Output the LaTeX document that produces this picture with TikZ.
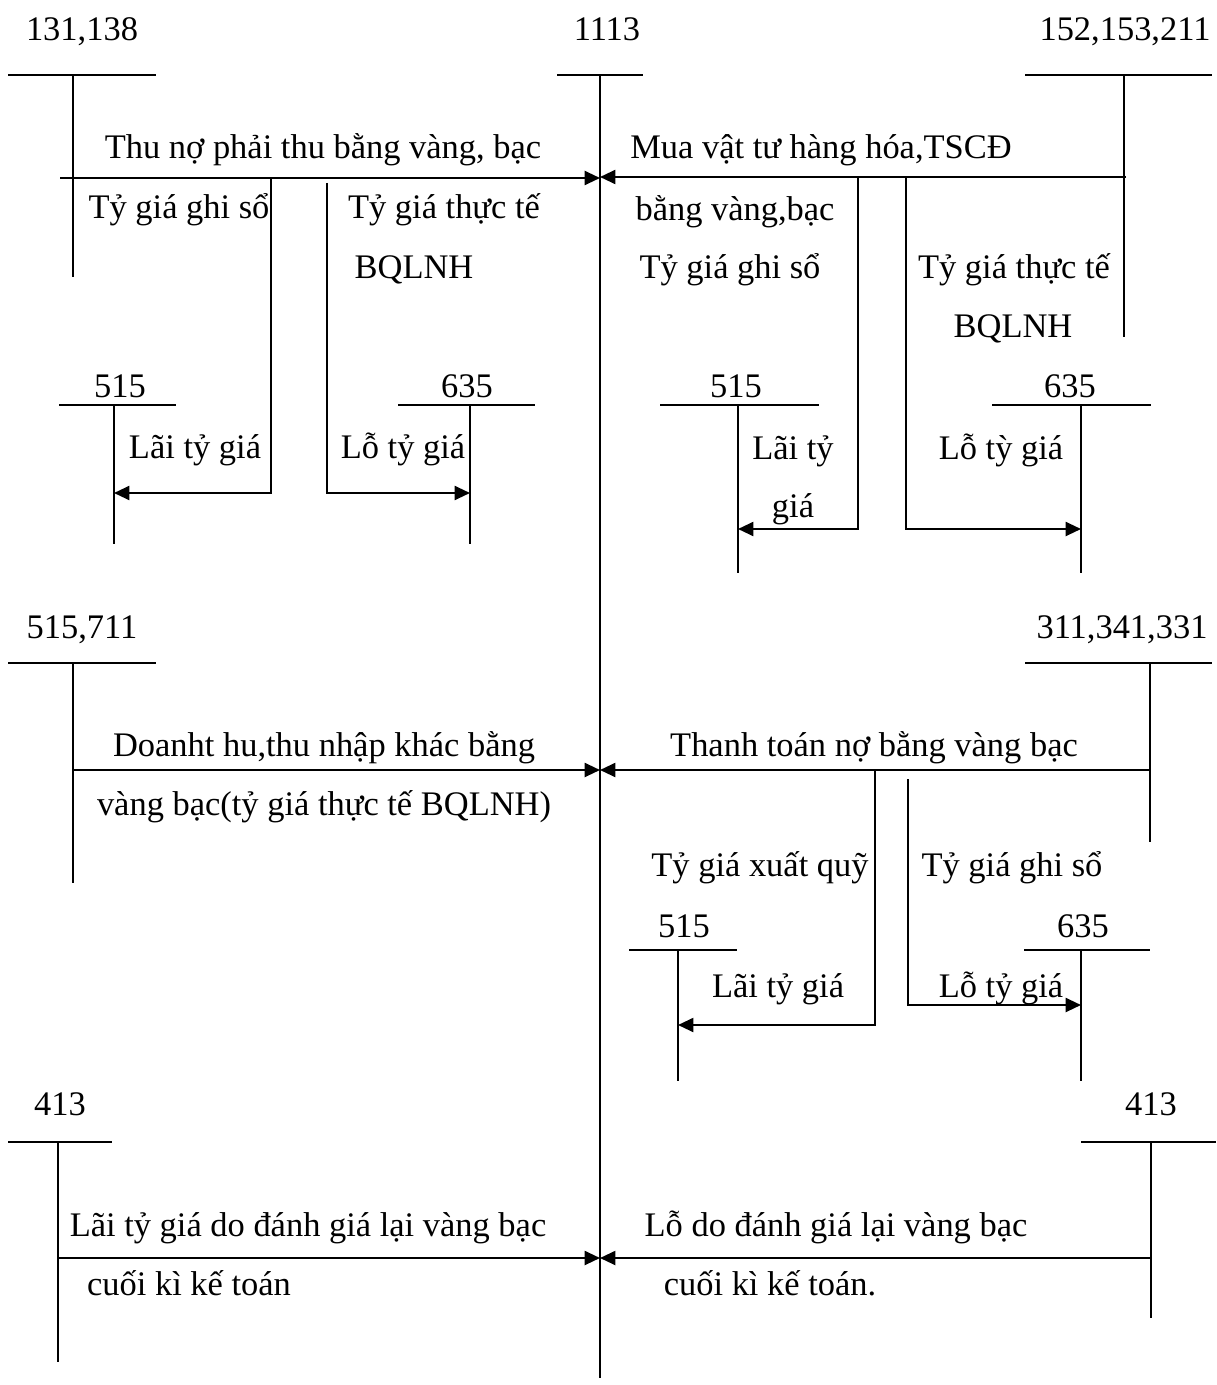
\documentclass[tikz,border=0pt]{standalone}
\usepackage{fontspec}
\setmainfont{Liberation Serif}
\usetikzlibrary{arrows.meta}

\tikzset{
  acct/.style={line width=1pt},
  flow/.style={line width=1.6pt, -{Triangle[length=11pt,width=10pt]}},
  lbl/.style={inner sep=0pt, text height=0.8em, text depth=0.25em, yshift=-5pt,
    font=\fontsize{24.5}{29}\selectfont},
}

\begin{document}
\begin{tikzpicture}[x=0.025cm, y=-0.025cm]
    \useasboundingbox (0,0) rectangle (1216,1385);

    % Main account 1113 in the middle
    \node[lbl] (n1113) at (607,30) {1113};
    \draw[acct] (557,75) -- (643,75);
    \coordinate (top1113) at (600,75);
    \coordinate (bot1113) at (600,1378);
    \draw[line width=1.4pt] (top1113) -- (bot1113);
    \coordinate (inA) at (600,178);
    \coordinate (inB) at (600,770);
    \coordinate (inC) at (600,1258);

    % 131,138 (upper left)
    \node[lbl] (n131) at (82,30) {131,138};
    \draw[acct] (8,75) -- (156,75);
    \draw[acct] (73,75) -- (73,277);
    \coordinate (s131) at (60,178);
    \draw[flow] (s131) -- (inA);
    \node[lbl] (t131) at (323,148) {Thu nợ phải thu bằng vàng, bạc};
    \node[lbl] (g131) at (179,208) {Tỷ giá ghi sổ};
    \node[lbl] (r131) at (444,208) {Tỷ giá thực tế};
    \node[lbl] (b131) at (414,268) {BQLNH};
    % 515 and 635 under it
    \node[lbl] (n515a) at (120,387) {515};
    \draw[acct] (59,405) -- (176,405);
    \draw[acct] (114,405) -- (114,544);
    \node[lbl] (n635a) at (467,387) {635};
    \draw[acct] (398,405) -- (535,405);
    \draw[acct] (470,405) -- (470,544);
    \coordinate (la1) at (271,178);
    \coordinate (la2) at (114,493);
    \coordinate (lo1) at (327,183);
    \coordinate (lo2) at (470,493);
    \draw[flow] (la1) |- (la2);
    \draw[flow] (lo1) |- (lo2);
    \node[lbl] (lai1) at (195,448) {Lãi tỷ giá};
    \node[lbl] (lo1t) at (403,448) {Lỗ tỷ giá};

    % 152,153,211 (upper right)
    \node[lbl] (n152) at (1125,30) {152,153,211};
    \draw[acct] (1025,75) -- (1212,75);
    \draw[acct] (1124,75) -- (1124,337);
    \coordinate (s152) at (1126,177);
    \draw[flow] (s152) -- (600,177);
    \node[lbl] (t152) at (821,148) {Mua vật tư hàng hóa,TSCĐ};
    \node[lbl] (v152) at (735,210) {bằng vàng,bạc};
    \node[lbl] (g152) at (730,268) {Tỷ giá ghi sổ};
    \node[lbl] (r152) at (1014,268) {Tỷ giá thực tế};
    \node[lbl] (b152) at (1013,327) {BQLNH};
    % 515 and 635 under it
    \node[lbl] (n515b) at (736,387) {515};
    \draw[acct] (660,405) -- (819,405);
    \draw[acct] (738,405) -- (738,573);
    \node[lbl] (n635b) at (1070,387) {635};
    \draw[acct] (992,405) -- (1151,405);
    \draw[acct] (1081,405) -- (1081,573);
    \coordinate (lb1) at (858,177);
    \coordinate (lb2) at (738,529);
    \coordinate (ob1) at (906,177);
    \coordinate (ob2) at (1081,529);
    \draw[flow] (lb1) |- (lb2);
    \draw[flow] (ob1) |- (ob2);
    \node[lbl] (lai2) at (793,449) {Lãi tỷ};
    \node[lbl] (lai2b) at (793,507) {giá};
    \node[lbl] (lo2t) at (1001,449) {Lỗ tỳ giá};

    % 515,711 (middle left)
    \node[lbl] (n711) at (82,628) {515,711};
    \draw[acct] (8,663) -- (156,663);
    \draw[acct] (73,663) -- (73,883);
    \coordinate (s711) at (73,770);
    \draw[flow] (s711) -- (inB);
    \node[lbl] (t711) at (324,746) {Doanht hu,thu nhập khác bằng};
    \node[lbl] (v711) at (324,805) {vàng bạc(tỷ giá thực tế BQLNH)};

    % 311,341,331 (middle right)
    \node[lbl] (n311) at (1122,628) {311,341,331};
    \draw[acct] (1025,663) -- (1212,663);
    \draw[acct] (1150,663) -- (1150,842);
    \coordinate (s311) at (1150,770);
    \draw[flow] (s311) -- (600,770);
    \node[lbl] (t311) at (874,746) {Thanh toán nợ bằng vàng bạc};
    \node[lbl] (x311) at (760,866) {Tỷ giá xuất quỹ};
    \node[lbl] (g311) at (1012,866) {Tỷ giá ghi sổ};
    % 515 and 635 under it
    \node[lbl] (n515c) at (684,927) {515};
    \draw[acct] (629,950) -- (737,950);
    \draw[acct] (678,950) -- (678,1081);
    \node[lbl] (n635c) at (1083,927) {635};
    \draw[acct] (1024,950) -- (1150,950);
    \draw[acct] (1081,950) -- (1081,1081);
    \coordinate (lc1) at (875,770);
    \coordinate (lc2) at (678,1025);
    \coordinate (oc1) at (908,779);
    \coordinate (oc2) at (1081,1005);
    \draw[flow] (lc1) |- (lc2);
    \draw[flow] (oc1) |- (oc2);
    \node[lbl] (lai3) at (778,987) {Lãi tỷ giá};
    \node[lbl] (lo3t) at (1001,987) {Lỗ tỷ giá};

    % 413 (bottom left)
    \node[lbl] (n413a) at (60,1105) {413};
    \draw[acct] (8,1142) -- (112,1142);
    \draw[acct] (58,1142) -- (58,1362);
    \coordinate (s413a) at (58,1258);
    \draw[flow] (s413a) -- (inC);
    \node[lbl] (t413a) at (308,1226) {Lãi tỷ giá do đánh giá lại vàng bạc};
    \node[lbl] (c413a) at (189,1285) {cuối kì kế toán};

    % 413 (bottom right)
    \node[lbl] (n413b) at (1151,1105) {413};
    \draw[acct] (1081,1142) -- (1216,1142);
    \draw[acct] (1151,1142) -- (1151,1318);
    \coordinate (s413b) at (1151,1258);
    \draw[flow] (s413b) -- (600,1258);
    \node[lbl] (t413b) at (836,1226) {Lỗ do đánh giá lại vàng bạc};
    \node[lbl] (c413b) at (770,1285) {cuối kì kế toán.};
\end{tikzpicture}
\end{document}
